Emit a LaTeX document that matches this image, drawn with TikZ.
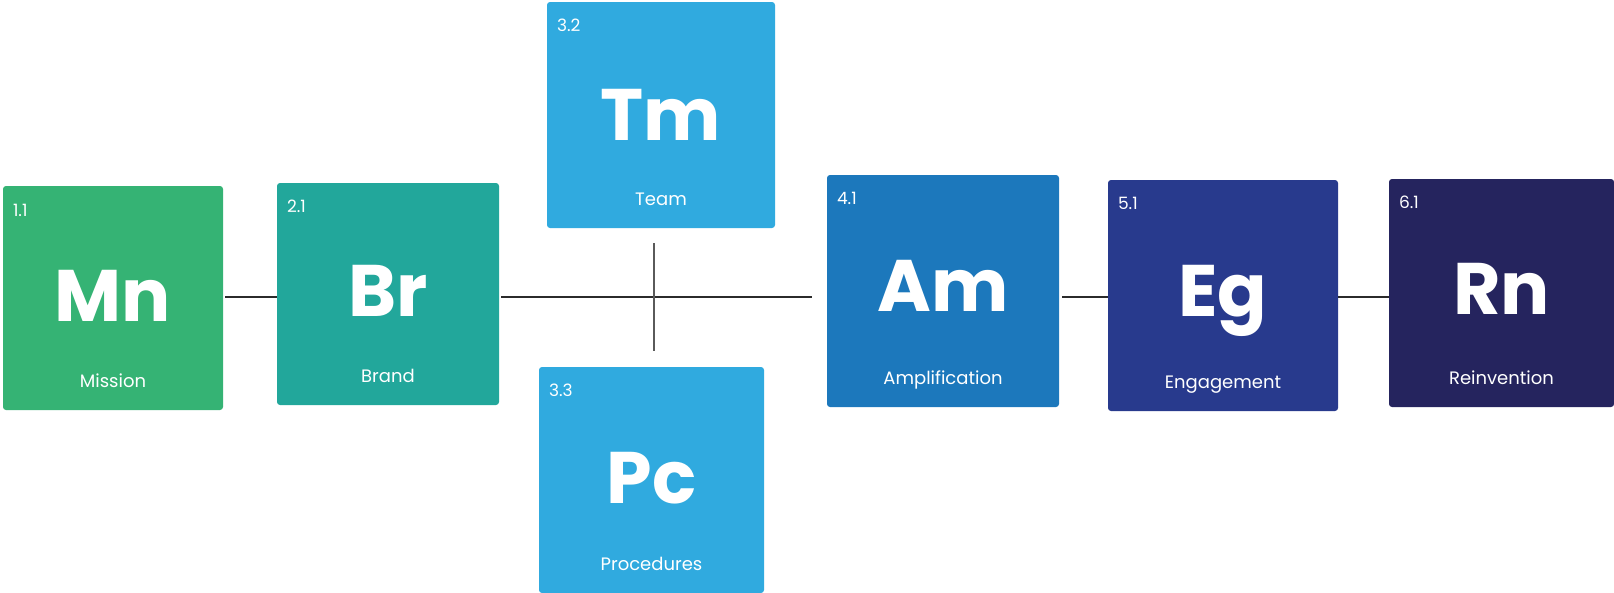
\documentclass[tikz,border=0pt]{standalone}
\usepackage{fontspec}
\setmainfont{Poppins}
\newfontfamily\symfont{Poppins}[BoldFont=* Bold]
\usetikzlibrary{positioning}
\definecolor{mncol}{HTML}{35B374}
\definecolor{brcol}{HTML}{22A79B}
\definecolor{tmcol}{HTML}{30AADF}
\definecolor{amcol}{HTML}{1C78BC}
\definecolor{egcol}{HTML}{283A8D}
\definecolor{rncol}{HTML}{25245E}
\tikzstyle{tile}=[rounded corners=3pt, inner sep=0pt, draw=none]
\tikzstyle{num}=[anchor=base west, inner sep=0pt, white, font=\fontsize{17}{19}\selectfont]
\tikzstyle{sym}=[anchor=base, inner sep=0pt, white, font=\symfont\bfseries\fontsize{73}{78}\selectfont]
\tikzstyle{lab}=[anchor=base, inner sep=0pt, white, font=\fontsize{18}{21}\selectfont]
\tikzstyle{link}=[line width=2pt, draw={rgb,255:red,43;green,43;blue,43}]

\begin{document}
\begin{tikzpicture}[x=1pt, y=-1pt]
\useasboundingbox (0,0) rectangle (1614,592);
% Tiles
    \node[tile, fill=mncol, minimum width=220pt, minimum height=224pt] (mn) at (113,298) {};
    \node[tile, fill=brcol, minimum width=222pt, minimum height=222pt] (br) at (388,294) {};
    \node[tile, fill=tmcol, minimum width=228pt, minimum height=226pt] (tm) at (661,115) {};
    \node[tile, fill=tmcol, minimum width=225pt, minimum height=226pt] (pc) at (651.5,480) {};
    \node[tile, fill=amcol, minimum width=232pt, minimum height=232pt] (am) at (943,291) {};
    \node[tile, fill=egcol, minimum width=230pt, minimum height=231pt] (eg) at (1223,295.5) {};
    \node[tile, fill=rncol, minimum width=225pt, minimum height=228pt] (rn) at (1501.5,293) {};
% Numbers
    \node[num] (mnnum) at ([shift={(10pt,-31pt)}]mn.north west) {1.1};
    \node[num] (brnum) at ([shift={(10pt,-30pt)}]br.north west) {2.1};
    \node[num] (tmnum) at ([shift={(10pt,-30pt)}]tm.north west) {3.2};
    \node[num] (pcnum) at ([shift={(10pt,-30pt)}]pc.north west) {3.3};
    \node[num] (amnum) at ([shift={(10pt,-30pt)}]am.north west) {4.1};
    \node[num] (egnum) at ([shift={(10pt,-30pt)}]eg.north west) {5.1};
    \node[num] (rnnum) at ([shift={(10pt,-30pt)}]rn.north west) {6.1};
% Symbols
    \node[sym] (mnsym) at ([yshift=-136pt]mn.north) {Mn};
    \node[sym] (brsym) at ([yshift=-134pt]br.north) {Br};
    \node[sym] (tmsym) at ([yshift=-139pt]tm.north) {Tm};
    \node[sym] (pcsym) at ([yshift=-137pt]pc.north) {Pc};
    \node[sym] (amsym) at ([yshift=-137pt]am.north) {Am};
    \node[sym] (egsym) at ([yshift=-137pt]eg.north) {Eg};
    \node[sym] (rnsym) at ([yshift=-136pt]rn.north) {Rn};
% Names
    \node[lab] (mnlab) at ([yshift=23pt]mn.south) {Mission};
    \node[lab] (brlab) at ([yshift=23pt]br.south) {Brand};
    \node[lab] (tmlab) at ([yshift=23pt]tm.south) {Team};
    \node[lab] (pclab) at ([yshift=23pt]pc.south) {Procedures};
    \node[lab] (amlab) at ([yshift=23pt]am.south) {Amplification};
    \node[lab] (eglab) at ([yshift=23pt]eg.south) {Engagement};
    \node[lab] (rnlab) at ([yshift=23pt]rn.south) {Reinvention};
% Links
    \coordinate (hub) at (654,297);
    \draw[link, shorten <=2pt] (mn.east |- hub) -- (br.west |- hub);
    \draw[link, shorten <=2pt, shorten >=15pt] (br.east |- hub) -- (am.west |- hub);
    \draw[link, shorten <=3pt] (am.east |- hub) -- (eg.west |- hub);
    \draw[link] (eg.east |- hub) -- (rn.west |- hub);
    \draw[link, draw={rgb,255:red,90;green,90;blue,90}, shorten <=15pt, shorten >=16pt] (hub |- tm.south) -- (hub |- pc.north);
\end{tikzpicture}
\end{document}
